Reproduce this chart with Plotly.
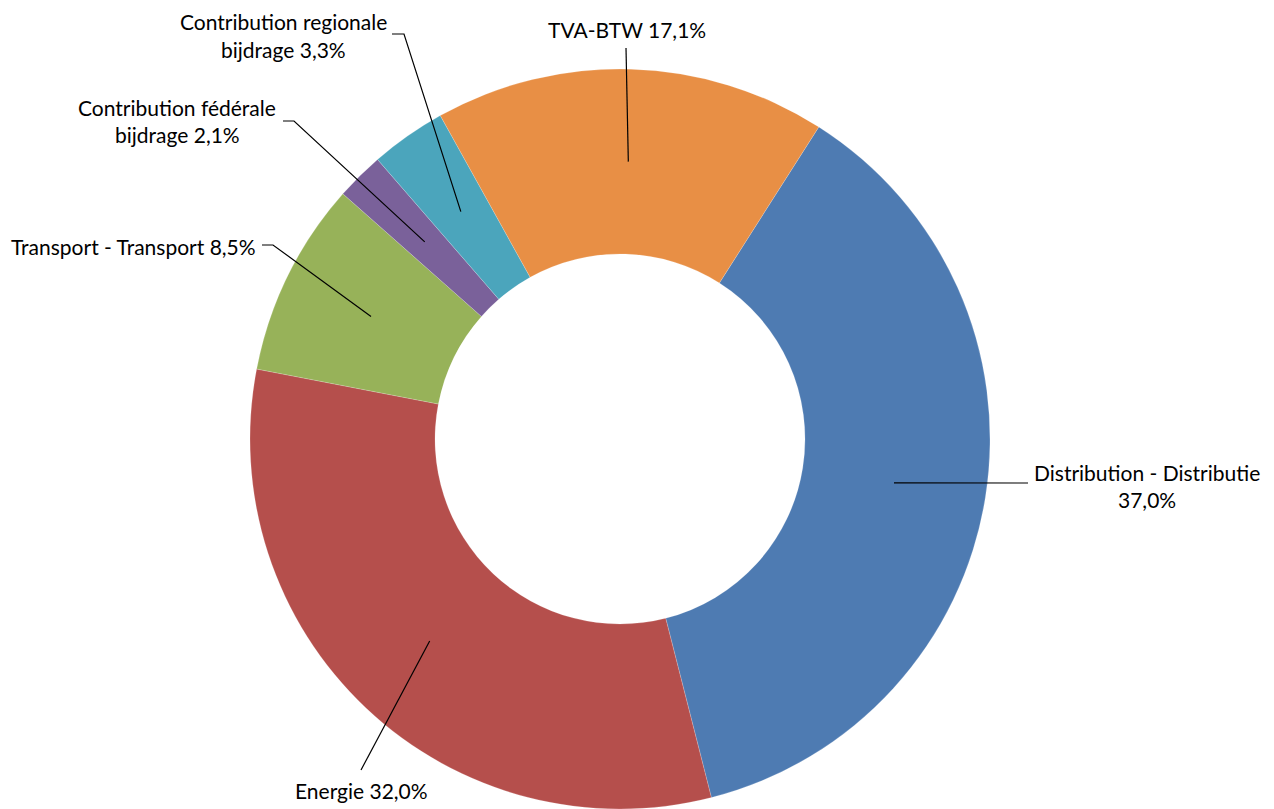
import math
import plotly.graph_objects as go

# ---- data ----
categories = ["Distribution - Distributie", "Energie", "Transport - Transport",
              "Contribution fédérale bijdrage", "Contribution regionale bijdrage", "TVA-BTW"]
shares = [37.0, 32.0, 8.5, 2.1, 3.3, 17.1]
label_lines = [
    ["Distribution - Distributie", "37,0%"],
    ["Energie 32,0%"],
    ["Transport - Transport 8,5%"],
    ["Contribution fédérale", "bijdrage 2,1%"],
    ["Contribution regionale", "bijdrage 3,3%"],
    ["TVA-BTW 17,1%"],
]
colors = ["#4E7BB2", "#B54F4C", "#97B259", "#7A619A", "#4BA5BC", "#E88F45"]

# ---- layout (pixels) ----
W, H = 1274, 809
CX, CY, R = 620, 439, 370
HOLE = 0.5
ROTATION = 32.5
# label text centre (first line) and leader-line outer points
label_pos = [(1147, 472), (361, 790), (133, 246), (177, 107), (283, 22), (627, 30)]
leader_outer = [
    [(1028, 483)],
    [(361, 770)],
    [(262, 245), (273, 245)],
    [(283, 121), (294, 121)],
    [(392, 34), (404, 34)],
    [(626, 48)],
]
LINE_GAP = 27

def px(x):
    return x / W

def py(y):
    return 1 - y / H

fig = go.Figure()
fig.add_trace(go.Pie(
    labels=categories, values=shares, sort=False, direction="clockwise",
    rotation=ROTATION, hole=HOLE, textinfo="none", hoverinfo="label+percent",
    marker=dict(colors=colors, line=dict(color="rgba(255,255,255,0.3)", width=0.6)),
    domain=dict(x=[px(CX - R), px(CX + R)], y=[py(CY + R), py(CY - R)]),
    showlegend=False,
))

total = sum(shares)
shapes = []
annotations = []
cum = 0.0
for i, v in enumerate(shares):
    mid = ROTATION + (cum + v / 2) / total * 360
    cum += v
    a = math.radians(mid)
    rr = R * 0.75
    ix, iy = CX + rr * math.sin(a), CY - rr * math.cos(a)
    pts = leader_outer[i] + [(ix, iy)]
    path = "M " + " L ".join(f"{px(x):.5f},{py(y):.5f}" for x, y in pts)
    shapes.append(dict(type="path", xref="paper", yref="paper", path=path,
                       line=dict(color="black", width=1.2)))
    lx, ly = label_pos[i]
    for k, t in enumerate(label_lines[i]):
        annotations.append(dict(x=px(lx), y=py(ly + k * LINE_GAP), xref="paper", yref="paper",
                                text=t, showarrow=False, xanchor="center", yanchor="middle",
                                font=dict(family="Lato, Carlito, Liberation Sans", size=21, color="black")))

fig.update_layout(
    width=W, height=H, margin=dict(l=0, r=0, t=0, b=0),
    paper_bgcolor="white", plot_bgcolor="white",
    shapes=shapes, annotations=annotations,
)
fig.write_html("out.html", config={"displayModeBar": False})

# remove the default page margin so the figure sits at the window's top-left corner
with open("out.html", encoding="utf-8") as f:
    html = f.read()
html = html.replace("<body>", '<body style="margin:0;padding:0;overflow:hidden">', 1)
with open("out.html", "w", encoding="utf-8") as f:
    f.write(html)
